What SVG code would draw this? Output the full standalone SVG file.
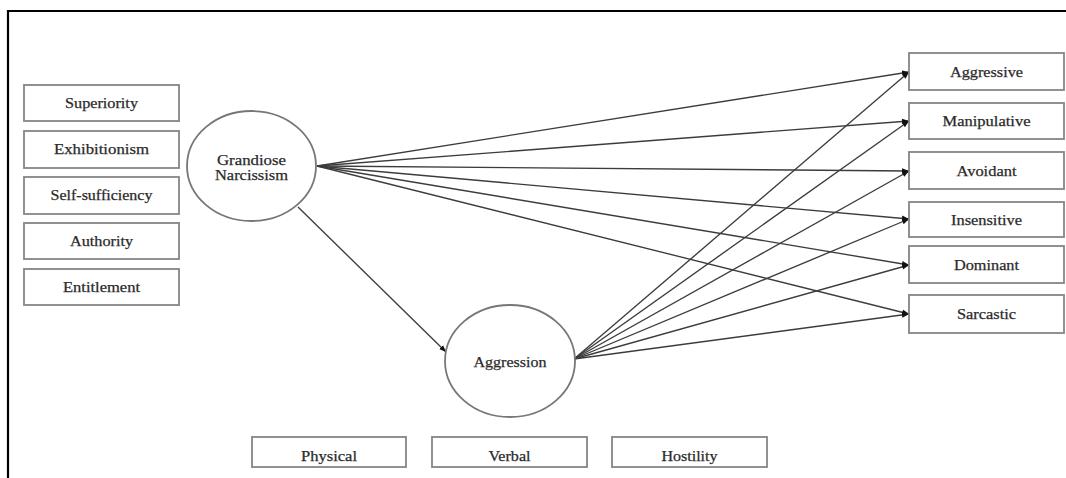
<svg xmlns="http://www.w3.org/2000/svg" width="1066" height="478" viewBox="0 0 1066 478">
  <style>
    .box { fill: #ffffff; stroke: #858585; stroke-width: 1.8; }
    .lat { fill: #ffffff; stroke: #777777; stroke-width: 1.8; }
    .lbl { font-family: "Liberation Serif", "Times New Roman", serif; font-size: 15px; fill: #2a2a2a; stroke: #2a2a2a; stroke-width: 0.25; text-anchor: middle; }
    .path { stroke: #3c3c3c; stroke-width: 1.35; fill: none; marker-end: url(#arrow); }
    .frame { stroke: #000000; stroke-width: 2.2; fill: none; }
  </style>
  <defs>
    <marker id="arrow" viewBox="0 0 10 10" refX="10" refY="5" markerWidth="7" markerHeight="7" markerUnits="userSpaceOnUse" orient="auto">
      <path d="M0,1 L10,5 L0,9 Z" fill="#111111"/>
    </marker>
  </defs>

  <rect width="1066" height="478" fill="#ffffff"/>
  <!-- outer frame: top and left rules only -->
  <path class="frame" d="M8,478 L8,11 L1066,11"/>

  <!-- structural paths -->
  <g id="connectors">
    <line class="path" x1="317" y1="166" x2="909" y2="72"/>
    <line class="path" x1="317" y1="166" x2="909" y2="121"/>
    <line class="path" x1="317" y1="166" x2="909" y2="171"/>
    <line class="path" x1="317" y1="166" x2="909" y2="219"/>
    <line class="path" x1="317" y1="166" x2="909" y2="265"/>
    <line class="path" x1="317" y1="166" x2="909" y2="314"/>
    <line class="path" x1="574" y1="359" x2="909" y2="72"/>
    <line class="path" x1="574" y1="359" x2="909" y2="121"/>
    <line class="path" x1="574" y1="359" x2="909" y2="171"/>
    <line class="path" x1="574" y1="359" x2="909" y2="219"/>
    <line class="path" x1="574" y1="359" x2="909" y2="265"/>
    <line class="path" x1="574" y1="359" x2="909" y2="314"/>
    <line class="path" x1="298" y1="207" x2="446" y2="352"/>
  </g>

  <!-- narcissism facets -->
  <g id="superiority"><rect class="box" x="24" y="85" width="155" height="36"/><text class="lbl" x="101.5" y="108" textLength="73" lengthAdjust="spacingAndGlyphs">Superiority</text></g>
  <g id="exhibitionism"><rect class="box" x="24" y="131" width="155" height="37"/><text class="lbl" x="101.5" y="154" textLength="95" lengthAdjust="spacingAndGlyphs">Exhibitionism</text></g>
  <g id="self-sufficiency"><rect class="box" x="24" y="177" width="155" height="37"/><text class="lbl" x="101.5" y="200" textLength="102" lengthAdjust="spacingAndGlyphs">Self-sufficiency</text></g>
  <g id="authority"><rect class="box" x="24" y="223" width="155" height="36"/><text class="lbl" x="101.5" y="246" textLength="63" lengthAdjust="spacingAndGlyphs">Authority</text></g>
  <g id="entitlement"><rect class="box" x="24" y="269" width="155" height="36"/><text class="lbl" x="101.5" y="292" textLength="77" lengthAdjust="spacingAndGlyphs">Entitlement</text></g>

  <!-- latent variables -->
  <g id="grandiose-narcissism">
    <ellipse class="lat" cx="251.5" cy="166" rx="64.5" ry="55"/>
    <text class="lbl" x="251.5" y="165" textLength="69" lengthAdjust="spacingAndGlyphs">Grandiose</text>
    <text class="lbl" x="251.5" y="180" textLength="73" lengthAdjust="spacingAndGlyphs">Narcissism</text>
  </g>
  <g id="aggression">
    <ellipse class="lat" cx="510" cy="361" rx="65" ry="56"/>
    <text class="lbl" x="510" y="367" textLength="73" lengthAdjust="spacingAndGlyphs">Aggression</text>
  </g>

  <!-- aggression facets -->
  <g id="physical"><rect class="box" x="252" y="437" width="154" height="30"/><text class="lbl" x="329" y="461" textLength="56" lengthAdjust="spacingAndGlyphs">Physical</text></g>
  <g id="verbal"><rect class="box" x="432" y="437" width="155" height="30"/><text class="lbl" x="509.5" y="461" textLength="42" lengthAdjust="spacingAndGlyphs">Verbal</text></g>
  <g id="hostility"><rect class="box" x="612" y="437" width="155" height="30"/><text class="lbl" x="689.5" y="461" textLength="56" lengthAdjust="spacingAndGlyphs">Hostility</text></g>

  <!-- interpersonal styles -->
  <g id="aggressive"><rect class="box" x="909" y="53" width="155" height="37"/><text class="lbl" x="986.5" y="77" textLength="73" lengthAdjust="spacingAndGlyphs">Aggressive</text></g>
  <g id="manipulative"><rect class="box" x="909" y="103" width="155" height="36"/><text class="lbl" x="986.5" y="126" textLength="88" lengthAdjust="spacingAndGlyphs">Manipulative</text></g>
  <g id="avoidant"><rect class="box" x="909" y="152" width="155" height="37"/><text class="lbl" x="986.5" y="176" textLength="60" lengthAdjust="spacingAndGlyphs">Avoidant</text></g>
  <g id="insensitive"><rect class="box" x="909" y="202" width="155" height="35"/><text class="lbl" x="986.5" y="225" textLength="71" lengthAdjust="spacingAndGlyphs">Insensitive</text></g>
  <g id="dominant"><rect class="box" x="909" y="246" width="155" height="37"/><text class="lbl" x="986.5" y="270" textLength="65" lengthAdjust="spacingAndGlyphs">Dominant</text></g>
  <g id="sarcastic"><rect class="box" x="909" y="295" width="155" height="38"/><text class="lbl" x="986.5" y="319" textLength="59" lengthAdjust="spacingAndGlyphs">Sarcastic</text></g>
</svg>
